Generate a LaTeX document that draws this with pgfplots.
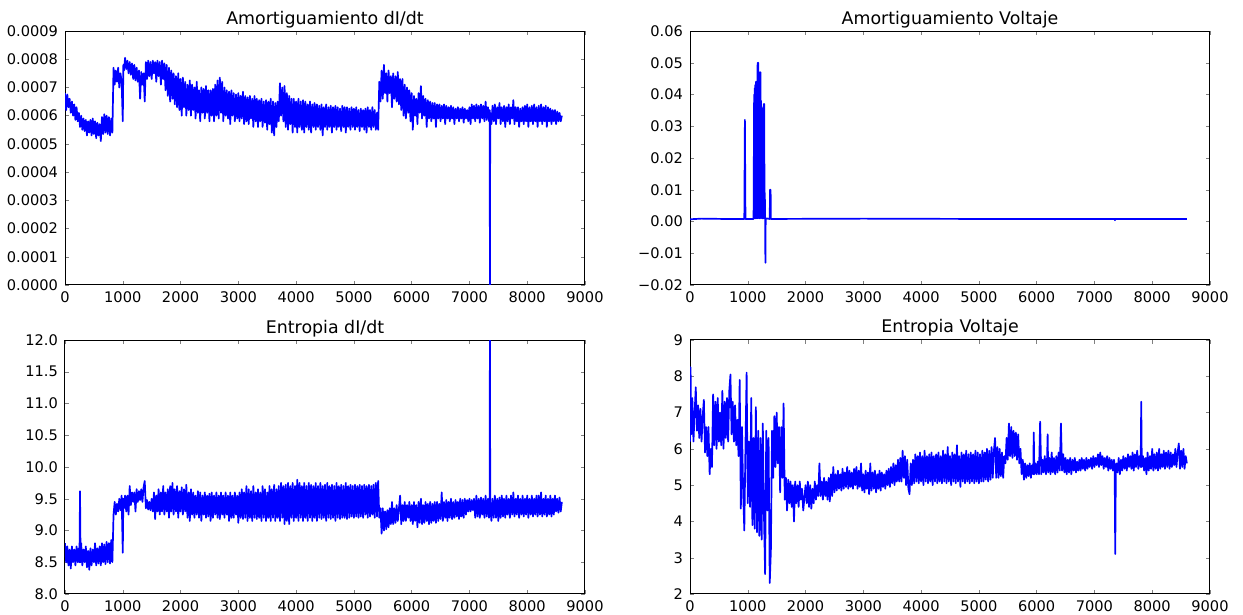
\documentclass[border=0pt]{standalone}
\usepackage{fontspec}
\setmainfont{DejaVu Sans}
\usepackage{pgfplots}
\pgfplotsset{compat=1.18}

% matplotlib "classic" look, 1px = 0.5pt
\pgfplotsset{
  mpl/.style={
    scale only axis, width=260pt, height=127pt, anchor=south west,
    xmin=0, xmax=9000, xtick={0,1000,...,9000},
    /pgf/number format/assume math mode=true,
    /pgf/number format/1000 sep={},
    scaled ticks=false,
    tick label style={font=\fontsize{7.3}{8.5}\selectfont},
    every axis title shift=0pt,
    title style={font=\fontsize{8.7}{10}\selectfont, at={(0.5,1)}, anchor=base, yshift=3.5pt},
    major tick length=2pt, tick align=inside,
    axis line style={line width=0.5pt},
  },
  trace/.style={color={rgb,255:red,0;green,0;blue,255}, line width=0.85pt, line join=round},
}

\begin{document}
\begin{tikzpicture}
\path[use as bounding box] (0,0) rectangle (621.5pt,307.5pt);

% ---------- Amortiguamiento dI/dt
\begin{axis}[mpl, at={(32.5pt,165pt)},
  title={Amortiguamiento dI/dt},
  ymin=0, ymax=0.0009,
  ytick={0,0.0001,0.0002,0.0003,0.0004,0.0005,0.0006,0.0007,0.0008,0.0009},
  yticklabels={0.0000,0.0001,0.0002,0.0003,0.0004,0.0005,0.0006,0.0007,0.0008,0.0009}]
\addplot[trace] coordinates {
(0,6.8e-4)(20,6.2e-4)(40,6.75e-4)(60,6.3e-4)(80,6.6e-4)(100,6.1e-4)(120,6.5e-4)(140,6.0e-4)(160,6.4e-4)(180,5.85e-4)
(200,6.3e-4)(220,5.8e-4)(240,6.1e-4)(260,5.6e-4)(280,6.0e-4)(300,5.5e-4)(320,5.9e-4)(340,5.45e-4)(360,5.85e-4)(380,5.3e-4)
(400,5.8e-4)(420,5.4e-4)(440,5.85e-4)(460,5.3e-4)(480,5.9e-4)(500,5.35e-4)(520,5.8e-4)(540,5.2e-4)(560,5.75e-4)(580,5.3e-4)
(600,5.7e-4)(620,5.1e-4)(640,5.95e-4)(660,5.35e-4)(680,6.05e-4)(700,5.4e-4)(720,6.0e-4)(740,5.35e-4)(760,5.95e-4)(780,5.3e-4)
(800,5.9e-4)(820,5.4e-4)(840,7.7e-4)(860,7.1e-4)(880,7.6e-4)(900,7.2e-4)(920,7.7e-4)(940,7.0e-4)(960,7.5e-4)(980,7.2e-4)
(1000,5.8e-4)(1010,7.8e-4)(1020,7.6e-4)(1040,8.05e-4)(1060,7.65e-4)(1080,7.95e-4)(1100,7.5e-4)(1120,7.9e-4)(1140,7.45e-4)(1160,7.85e-4)
(1180,7.3e-4)(1200,7.8e-4)(1220,7.25e-4)(1240,7.7e-4)(1260,7.2e-4)(1280,7.6e-4)(1300,6.6e-4)(1320,7.55e-4)(1340,7.1e-4)(1360,7.5e-4)
(1380,6.5e-4)(1400,7.9e-4)(1420,7.3e-4)(1440,7.95e-4)(1460,7.4e-4)(1480,7.9e-4)(1500,7.3e-4)(1520,7.95e-4)(1540,7.5e-4)(1560,7.9e-4)
(1580,7.2e-4)(1600,7.95e-4)(1620,7.4e-4)(1640,7.9e-4)(1660,7.1e-4)(1680,7.95e-4)(1700,7.3e-4)(1720,7.85e-4)(1740,6.9e-4)(1760,7.8e-4)
(1780,6.7e-4)(1800,7.7e-4)(1820,6.5e-4)(1840,7.6e-4)(1860,6.6e-4)(1880,7.5e-4)(1900,6.4e-4)(1920,7.4e-4)(1940,6.3e-4)(1960,7.5e-4)
(1980,6.2e-4)(2000,7.3e-4)(2020,6.0e-4)(2040,7.35e-4)(2060,6.3e-4)(2080,7.2e-4)(2100,6.0e-4)(2120,7.1e-4)(2140,6.2e-4)(2160,7.25e-4)
(2180,6.0e-4)(2200,7.1e-4)(2220,6.2e-4)(2240,7.0e-4)(2260,5.9e-4)(2280,7.2e-4)(2300,6.1e-4)(2320,6.9e-4)(2340,5.8e-4)(2360,7.0e-4)
(2380,6.1e-4)(2400,6.95e-4)(2420,5.9e-4)(2440,7.05e-4)(2460,6.1e-4)(2480,6.9e-4)(2500,5.8e-4)(2520,6.9e-4)(2540,6.0e-4)(2560,6.95e-4)
(2580,5.8e-4)(2600,7.1e-4)(2620,6.0e-4)(2640,7.25e-4)(2660,5.9e-4)(2680,7.35e-4)(2700,6.1e-4)(2720,7.2e-4)(2740,5.8e-4)(2760,7.0e-4)
(2780,6.0e-4)(2800,6.9e-4)(2820,5.9e-4)(2840,6.85e-4)(2860,5.7e-4)(2880,6.9e-4)(2900,6.0e-4)(2920,6.8e-4)(2940,5.8e-4)(2960,6.75e-4)
(2980,5.9e-4)(3000,6.8e-4)(3020,5.8e-4)(3040,6.7e-4)(3060,5.9e-4)(3080,6.85e-4)(3100,5.7e-4)(3120,6.7e-4)(3140,5.8e-4)(3160,6.65e-4)
(3180,5.7e-4)(3200,6.7e-4)(3220,5.9e-4)(3240,6.6e-4)(3260,5.6e-4)(3280,6.7e-4)(3300,5.8e-4)(3320,6.6e-4)(3340,5.6e-4)(3360,6.55e-4)
(3380,5.8e-4)(3400,6.6e-4)(3420,5.6e-4)(3440,6.5e-4)(3460,5.75e-4)(3480,6.55e-4)(3500,5.5e-4)(3520,6.5e-4)(3540,5.7e-4)(3560,6.6e-4)
(3580,5.4e-4)(3600,6.5e-4)(3620,5.3e-4)(3640,6.45e-4)(3660,5.6e-4)(3680,6.5e-4)(3700,5.8e-4)(3720,7.15e-4)(3740,6.0e-4)(3760,7.0e-4)
(3780,5.8e-4)(3800,7.05e-4)(3820,5.6e-4)(3840,6.8e-4)(3860,5.5e-4)(3880,6.7e-4)(3900,5.7e-4)(3920,6.6e-4)(3940,5.4e-4)(3960,6.6e-4)
(3980,5.6e-4)(4000,6.5e-4)(4020,5.4e-4)(4040,6.6e-4)(4060,5.6e-4)(4080,6.5e-4)(4100,5.5e-4)(4120,6.55e-4)(4140,5.4e-4)(4160,6.5e-4)
(4180,5.6e-4)(4200,6.4e-4)(4220,5.5e-4)(4240,6.5e-4)(4260,5.4e-4)(4280,6.4e-4)(4300,5.6e-4)(4320,6.45e-4)(4340,5.5e-4)(4360,6.4e-4)
(4380,5.6e-4)(4400,6.35e-4)(4420,5.5e-4)(4440,6.4e-4)(4460,5.3e-4)(4480,6.3e-4)(4500,5.6e-4)(4520,6.4e-4)(4540,5.5e-4)(4560,6.3e-4)
(4580,5.6e-4)(4600,6.35e-4)(4620,5.4e-4)(4640,6.3e-4)(4660,5.6e-4)(4680,6.35e-4)(4700,5.5e-4)(4720,6.3e-4)(4740,5.6e-4)(4760,6.25e-4)
(4780,5.45e-4)(4800,6.35e-4)(4820,5.6e-4)(4840,6.3e-4)(4860,5.4e-4)(4880,6.3e-4)(4900,5.6e-4)(4920,6.25e-4)(4940,5.5e-4)(4960,6.3e-4)
(4980,5.6e-4)(5000,6.25e-4)(5020,5.5e-4)(5040,6.3e-4)(5060,5.6e-4)(5080,6.2e-4)(5100,5.45e-4)(5120,6.25e-4)(5140,5.6e-4)(5160,6.2e-4)
(5180,5.5e-4)(5200,6.25e-4)(5220,5.4e-4)(5240,6.3e-4)(5260,5.6e-4)(5280,6.2e-4)(5300,5.5e-4)(5320,6.3e-4)(5340,5.6e-4)(5360,6.2e-4)
(5380,5.5e-4)(5400,6.1e-4)(5420,5.5e-4)(5440,7.2e-4)(5460,6.5e-4)(5480,7.6e-4)(5500,6.6e-4)(5520,7.8e-4)(5540,6.8e-4)(5560,7.5e-4)
(5580,6.5e-4)(5600,7.6e-4)(5620,6.8e-4)(5640,7.4e-4)(5660,6.3e-4)(5680,7.5e-4)(5700,6.6e-4)(5720,7.4e-4)(5740,6.5e-4)(5760,7.55e-4)
(5780,6.4e-4)(5800,7.3e-4)(5820,6.2e-4)(5840,7.3e-4)(5860,6.0e-4)(5880,7.1e-4)(5900,5.9e-4)(5920,7.0e-4)(5940,6.1e-4)(5960,6.9e-4)
(5980,5.8e-4)(6000,6.8e-4)(6020,5.5e-4)(6040,6.7e-4)(6060,6.0e-4)(6080,6.6e-4)(6100,5.7e-4)(6120,6.8e-4)(6140,6.1e-4)(6160,7.05e-4)
(6180,5.9e-4)(6200,6.7e-4)(6220,6.0e-4)(6240,6.6e-4)(6260,5.6e-4)(6280,6.55e-4)(6300,5.9e-4)(6320,6.5e-4)(6340,5.8e-4)(6360,6.45e-4)
(6380,5.9e-4)(6400,6.45e-4)(6420,5.6e-4)(6440,6.4e-4)(6460,5.9e-4)(6480,6.4e-4)(6500,5.8e-4)(6520,6.35e-4)(6540,5.9e-4)(6560,6.4e-4)
(6580,5.7e-4)(6600,6.35e-4)(6620,5.9e-4)(6640,6.3e-4)(6660,5.8e-4)(6680,6.35e-4)(6700,5.9e-4)(6720,6.3e-4)(6740,5.7e-4)(6760,6.25e-4)
(6780,5.9e-4)(6800,6.3e-4)(6820,5.8e-4)(6840,6.25e-4)(6860,5.9e-4)(6880,6.3e-4)(6900,5.75e-4)(6920,6.25e-4)(6940,5.9e-4)(6960,6.2e-4)
(6980,5.8e-4)(7000,6.3e-4)(7020,5.7e-4)(7040,6.4e-4)(7060,5.9e-4)(7080,6.35e-4)(7100,5.8e-4)(7120,6.4e-4)(7140,5.9e-4)(7160,6.35e-4)
(7180,5.75e-4)(7200,6.4e-4)(7220,5.9e-4)(7240,6.35e-4)(7260,5.8e-4)(7280,6.5e-4)(7300,5.85e-4)(7320,6.3e-4)(7340,5.8e-4)(7350,6.2e-4)
(7355,0)(7360,6.1e-4)(7380,5.7e-4)(7400,6.35e-4)(7420,5.8e-4)(7440,6.4e-4)(7460,5.7e-4)(7480,6.3e-4)(7500,5.9e-4)(7520,6.45e-4)
(7540,5.7e-4)(7560,6.3e-4)(7580,5.8e-4)(7600,6.35e-4)(7620,5.6e-4)(7640,6.3e-4)(7660,5.8e-4)(7680,6.4e-4)(7700,5.7e-4)(7720,6.3e-4)
(7740,5.9e-4)(7760,6.55e-4)(7780,5.7e-4)(7800,6.3e-4)(7820,5.8e-4)(7840,6.3e-4)(7860,5.6e-4)(7880,6.25e-4)(7900,5.8e-4)(7920,6.3e-4)
(7940,5.7e-4)(7960,6.35e-4)(7980,5.8e-4)(8000,6.4e-4)(8020,5.6e-4)(8040,6.3e-4)(8060,5.8e-4)(8080,6.35e-4)(8100,5.7e-4)(8120,6.4e-4)
(8140,5.8e-4)(8160,6.3e-4)(8180,5.6e-4)(8200,6.35e-4)(8220,5.8e-4)(8240,6.4e-4)(8260,5.7e-4)(8280,6.3e-4)(8300,5.8e-4)(8320,6.35e-4)
(8340,5.6e-4)(8360,6.3e-4)(8380,5.8e-4)(8400,6.25e-4)(8420,5.7e-4)(8440,6.2e-4)(8460,5.8e-4)(8480,6.2e-4)(8500,5.7e-4)(8520,6.15e-4)
(8540,5.8e-4)(8560,6.1e-4)(8580,5.8e-4)(8600,6.0e-4)
};
\end{axis}

% ---------- Amortiguamiento Voltaje
\begin{axis}[mpl, at={(345pt,165pt)},
  title={Amortiguamiento Voltaje},
  ymin=-0.02, ymax=0.06,
  ytick={-0.02,-0.01,0,0.01,0.02,0.03,0.04,0.05,0.06},
  yticklabels={−0.02,−0.01,0.00,0.01,0.02,0.03,0.04,0.05,0.06}]
\addplot[trace] coordinates {
(0,0.0007)(200,0.0009)(600,0.0008)(940,0.0008)(950,0.032)(960,0.0008)(1100,0.0008)
(1110,0.040)(1115,0.001)(1120,0.042)(1125,0.002)(1130,0.043)(1135,0.001)(1140,0.044)(1145,0.002)
(1150,0.044)(1155,0.001)(1160,0.043)(1165,0.003)(1170,0.050)(1175,0.001)(1180,0.050)(1185,0.034)
(1190,0.002)(1195,0.040)(1200,0.001)(1210,0.047)(1215,0.002)(1220,0.047)(1225,0.001)(1230,0.038)
(1235,0.002)(1240,0.036)(1245,0.001)(1250,0.030)(1255,0.001)(1270,0.001)(1275,0.037)(1280,0.002)
(1285,0.037)(1290,0.001)(1295,0.009)(1300,0.001)(1305,-0.013)(1310,0.001)(1380,0.0008)(1385,0.010)
(1395,0.010)(1400,0.0008)(3000,0.0009)(5000,0.0008)(7350,0.0008)(7355,0.0004)(7360,0.0008)(8600,0.0008)
};
\end{axis}

% ---------- Entropia dI/dt
\begin{axis}[mpl, at={(32.5pt,10.5pt)},
  title={Entropia dI/dt},
  ymin=8, ymax=12,
  ytick={8,8.5,...,12},
  yticklabels={8.0,8.5,9.0,9.5,10.0,10.5,11.0,11.5,12.0}]
\addplot[trace] coordinates {
(0,8.8)(20,8.5)(40,8.75)(60,8.45)(80,8.7)(100,8.4)(120,8.75)(140,8.5)(160,8.7)(180,8.45)
(200,8.75)(220,8.5)(240,8.72)(250,8.5)(260,9.62)(270,8.5)(280,8.8)(300,8.45)(320,8.7)(340,8.5)
(360,8.75)(380,8.42)(400,8.68)(420,8.38)(440,8.72)(460,8.45)(480,8.7)(500,8.5)(520,8.8)(540,8.45)
(560,8.72)(580,8.48)(600,8.75)(620,8.45)(640,8.8)(660,8.5)(680,8.78)(700,8.47)(720,8.82)(740,8.5)
(760,8.8)(780,8.48)(800,8.85)(820,8.5)(840,9.25)(860,9.45)(880,9.25)(900,9.42)(920,9.3)(940,9.5)
(960,9.32)(980,9.55)(1000,8.65)(1010,9.5)(1020,9.35)(1040,9.55)(1060,9.3)(1080,9.55)(1100,9.25)(1120,9.7)
(1140,9.4)(1160,9.6)(1180,9.45)(1200,9.6)(1220,9.3)(1240,9.65)(1260,9.45)(1280,9.62)(1300,9.48)(1320,9.65)
(1340,9.45)(1360,9.68)(1380,9.78)(1400,9.35)(1420,9.48)(1440,9.33)(1460,9.45)(1480,9.32)(1500,9.5)(1520,9.3)
(1540,9.6)(1560,9.18)(1580,9.55)(1600,9.3)(1620,9.65)(1640,9.25)(1660,9.6)(1680,9.3)(1700,9.7)(1720,9.25)
(1740,9.6)(1760,9.3)(1780,9.65)(1800,9.2)(1820,9.7)(1840,9.3)(1860,9.75)(1880,9.25)(1900,9.65)(1920,9.3)
(1940,9.7)(1960,9.2)(1980,9.62)(2000,9.3)(2020,9.68)(2040,9.25)(2060,9.65)(2080,9.3)(2100,9.72)(2120,9.2)
(2140,9.6)(2160,9.15)(2180,9.65)(2200,9.25)(2220,9.6)(2240,9.2)(2260,9.55)(2280,9.25)(2300,9.62)(2320,9.2)
(2340,9.6)(2360,9.15)(2380,9.55)(2400,9.25)(2420,9.6)(2440,9.2)(2460,9.55)(2480,9.22)(2500,9.58)(2520,9.15)
(2540,9.6)(2560,9.2)(2580,9.55)(2600,9.25)(2620,9.6)(2640,9.2)(2660,9.55)(2680,9.18)(2700,9.6)(2720,9.25)
(2740,9.55)(2760,9.2)(2780,9.6)(2800,9.25)(2820,9.55)(2840,9.15)(2860,9.6)(2880,9.2)(2900,9.55)(2920,9.2)
(2940,9.6)(2960,9.25)(2980,9.55)(3000,9.12)(3020,9.6)(3040,9.2)(3060,9.65)(3080,9.18)(3100,9.6)(3120,9.2)
(3140,9.7)(3160,9.15)(3180,9.65)(3200,9.2)(3220,9.62)(3240,9.15)(3260,9.7)(3280,9.2)(3300,9.6)(3320,9.18)
(3340,9.65)(3360,9.2)(3380,9.6)(3400,9.15)(3420,9.7)(3440,9.2)(3460,9.65)(3480,9.15)(3500,9.6)(3520,9.2)
(3540,9.7)(3560,9.15)(3580,9.65)(3600,9.2)(3620,9.72)(3640,9.15)(3660,9.65)(3680,9.2)(3700,9.7)(3720,9.15)
(3740,9.75)(3760,9.2)(3780,9.7)(3800,9.1)(3820,9.72)(3840,9.15)(3860,9.75)(3880,9.1)(3900,9.7)(3920,9.2)
(3940,9.75)(3960,9.15)(3980,9.7)(4000,9.2)(4020,9.8)(4040,9.15)(4060,9.75)(4080,9.2)(4100,9.7)(4120,9.15)
(4140,9.75)(4160,9.2)(4180,9.7)(4200,9.15)(4220,9.75)(4240,9.2)(4260,9.72)(4280,9.15)(4300,9.7)(4320,9.2)
(4340,9.75)(4360,9.15)(4380,9.7)(4400,9.2)(4420,9.75)(4440,9.18)(4460,9.7)(4480,9.2)(4500,9.72)(4520,9.15)
(4540,9.75)(4560,9.2)(4580,9.7)(4600,9.18)(4620,9.72)(4640,9.2)(4660,9.7)(4680,9.15)(4700,9.75)(4720,9.2)
(4740,9.7)(4760,9.18)(4780,9.72)(4800,9.2)(4820,9.7)(4840,9.2)(4860,9.75)(4880,9.18)(4900,9.7)(4920,9.2)
(4940,9.72)(4960,9.22)(4980,9.7)(5000,9.2)(5020,9.72)(5040,9.22)(5060,9.7)(5080,9.2)(5100,9.72)(5120,9.22)
(5140,9.7)(5160,9.2)(5180,9.72)(5200,9.25)(5220,9.7)(5240,9.2)(5260,9.72)(5280,9.22)(5300,9.7)(5320,9.25)
(5340,9.72)(5360,9.2)(5380,9.75)(5400,9.22)(5420,9.78)(5440,9.2)(5460,9.35)(5480,8.95)(5500,9.35)(5520,9.0)
(5540,9.3)(5560,9.02)(5580,9.32)(5600,9.05)(5620,9.35)(5640,9.1)(5660,9.45)(5680,9.1)(5700,9.35)(5720,9.12)
(5740,9.4)(5760,9.15)(5780,9.35)(5800,9.55)(5820,9.1)(5840,9.4)(5860,9.15)(5880,9.45)(5900,9.15)(5920,9.4)
(5940,9.2)(5960,9.45)(5980,9.15)(6000,9.4)(6020,9.1)(6040,9.45)(6060,9.15)(6080,9.4)(6100,9.05)(6120,9.45)
(6140,9.12)(6160,9.5)(6180,9.1)(6200,9.4)(6220,9.12)(6240,9.45)(6260,9.15)(6280,9.42)(6300,9.1)(6320,9.45)
(6340,9.12)(6360,9.42)(6380,9.15)(6400,9.45)(6420,9.12)(6440,9.45)(6460,9.15)(6480,9.42)(6500,9.18)(6520,9.6)
(6540,9.15)(6560,9.45)(6580,9.2)(6600,9.48)(6620,9.15)(6640,9.45)(6660,9.2)(6680,9.5)(6700,9.18)(6720,9.45)
(6740,9.2)(6760,9.48)(6780,9.22)(6800,9.45)(6820,9.18)(6840,9.5)(6860,9.22)(6880,9.48)(6900,9.2)(6920,9.5)
(6940,9.25)(6960,9.48)(6980,9.3)(7000,9.5)(7020,9.3)(7040,9.48)(7060,9.32)(7080,9.5)(7100,9.2)(7120,9.55)
(7140,9.22)(7160,9.5)(7180,9.2)(7200,9.52)(7220,9.25)(7240,9.5)(7260,9.2)(7280,9.55)(7300,9.22)(7320,9.5)
(7340,9.2)(7350,9.5)(7355,12.5)(7360,9.4)(7380,9.15)(7400,9.5)(7420,9.2)(7440,9.55)(7460,9.2)(7480,9.5)
(7500,9.15)(7520,9.52)(7540,9.2)(7560,9.55)(7580,9.22)(7600,9.5)(7620,9.2)(7640,9.55)(7660,9.25)(7680,9.5)
(7700,9.2)(7720,9.55)(7740,9.25)(7760,9.6)(7780,9.22)(7800,9.5)(7820,9.25)(7840,9.55)(7860,9.2)(7880,9.5)
(7900,9.25)(7920,9.55)(7940,9.22)(7960,9.5)(7980,9.25)(8000,9.55)(8020,9.2)(8040,9.5)(8060,9.25)(8080,9.55)
(8100,9.22)(8120,9.5)(8140,9.25)(8160,9.55)(8180,9.22)(8200,9.55)(8220,9.25)(8240,9.6)(8260,9.22)(8280,9.5)
(8300,9.25)(8320,9.55)(8340,9.22)(8360,9.5)(8380,9.25)(8400,9.55)(8420,9.22)(8440,9.5)(8460,9.25)(8480,9.55)
(8500,9.3)(8520,9.5)(8540,9.28)(8560,9.52)(8580,9.3)(8600,9.45)
};
\end{axis}

% ---------- Entropia Voltaje
\begin{axis}[mpl, at={(345pt,10.5pt)},
  title={Entropia Voltaje},
  ymin=2, ymax=9, ytick={2,3,...,9}]
\addplot[trace] coordinates {
(0,6.2)(10,8.25)(20,6.4)(40,7.4)(60,6.2)(80,7.0)(100,7.7)(120,6.5)(140,7.2)(160,6.3)
(180,7.1)(200,6.2)(220,6.9)(240,7.35)(260,5.9)(280,6.6)(300,5.8)(320,6.6)(340,5.3)(360,6.0)
(380,5.5)(400,7.5)(420,6.1)(440,7.3)(460,6.0)(480,7.4)(500,6.2)(520,7.0)(540,6.1)(560,7.6)
(580,6.0)(600,7.3)(620,6.3)(640,7.4)(660,6.2)(680,7.6)(700,8.05)(720,6.4)(740,7.3)(760,6.2)
(780,7.2)(800,6.1)(820,6.8)(840,5.8)(860,7.9)(880,4.35)(900,6.6)(920,4.8)(940,3.75)(960,6.1)
(980,8.1)(1000,4.5)(1020,6.2)(1040,4.4)(1060,7.4)(1080,3.9)(1100,6.3)(1120,3.8)(1140,7.15)(1160,3.7)
(1180,6.5)(1200,3.6)(1220,6.3)(1240,3.5)(1260,6.7)(1280,4.2)(1300,2.55)(1320,6.5)(1340,4.3)(1360,6.3)
(1380,2.3)(1400,3.2)(1420,6.5)(1440,5.2)(1460,6.9)(1480,5.5)(1500,7.0)(1520,5.6)(1540,6.6)(1560,4.8)
(1580,6.6)(1600,5.2)(1620,7.25)(1640,4.6)(1660,5.2)(1680,4.3)(1700,5.15)(1720,4.5)(1740,5.1)(1760,4.4)
(1780,5.0)(1800,4.0)(1820,5.1)(1840,4.5)(1860,5.0)(1880,4.4)(1900,5.1)(1920,4.6)(1940,4.9)(1960,4.3)
(2000,5.0)(2020,4.5)(2040,5.1)(2060,4.4)(2080,5.0)(2100,4.35)(2120,4.9)(2140,4.5)(2160,5.1)(2180,4.6)
(2200,5.0)(2220,4.7)(2240,5.6)(2260,4.7)(2280,5.1)(2300,4.6)(2320,5.2)(2340,4.7)(2360,5.1)(2380,4.6)
(2400,5.2)(2420,4.55)(2440,5.3)(2460,4.7)(2480,5.5)(2500,4.8)(2520,5.3)(2540,4.85)(2560,5.4)(2580,4.9)
(2600,5.3)(2620,4.85)(2640,5.45)(2660,4.9)(2680,5.35)(2700,4.95)(2720,5.5)(2740,4.9)(2760,5.4)(2780,4.95)
(2800,5.35)(2820,4.9)(2840,5.45)(2860,5.0)(2880,5.5)(2900,4.9)(2920,5.4)(2940,4.95)(2960,5.6)(2980,4.85)
(3000,5.3)(3020,4.8)(3040,5.4)(3060,4.9)(3080,5.35)(3100,4.75)(3120,5.6)(3140,4.85)(3160,5.35)(3180,4.9)
(3200,5.4)(3220,4.8)(3240,5.3)(3260,4.9)(3280,5.4)(3300,4.85)(3320,5.35)(3340,4.95)(3360,5.3)(3380,4.9)
(3400,5.4)(3420,5.0)(3440,5.45)(3460,4.95)(3480,5.5)(3500,5.05)(3520,5.6)(3540,5.0)(3560,5.55)(3580,5.1)
(3600,5.7)(3620,5.1)(3640,5.75)(3660,5.1)(3680,5.95)(3700,5.2)(3720,5.8)(3740,5.0)(3760,5.7)(3780,4.9)
(3800,4.75)(3820,5.6)(3840,5.0)(3860,5.7)(3880,5.05)(3900,5.85)(3920,5.1)(3940,5.8)(3960,5.05)(3980,5.9)
(4000,5.1)(4020,5.8)(4040,5.0)(4060,5.95)(4080,5.1)(4100,5.8)(4120,5.05)(4140,5.85)(4160,5.1)(4180,5.9)
(4200,5.0)(4220,5.8)(4240,5.1)(4260,5.85)(4280,5.05)(4300,5.9)(4320,5.1)(4340,5.8)(4360,5.05)(4380,5.95)
(4400,5.1)(4420,5.85)(4440,5.05)(4460,6.05)(4480,5.1)(4500,5.8)(4520,5.0)(4540,5.9)(4560,5.1)(4580,5.85)
(4600,5.05)(4620,6.1)(4640,5.1)(4660,5.8)(4680,4.95)(4700,5.9)(4720,5.1)(4740,5.85)(4760,5.05)(4780,5.95)
(4800,5.1)(4820,5.85)(4840,5.05)(4860,5.9)(4880,5.1)(4900,5.85)(4920,5.05)(4940,5.95)(4960,5.1)(4980,5.9)
(5000,5.05)(5020,5.85)(5040,5.1)(5060,5.95)(5080,5.1)(5100,5.9)(5120,5.15)(5140,6.0)(5160,5.1)(5180,5.95)
(5200,5.15)(5220,6.05)(5240,5.2)(5260,5.95)(5280,6.3)(5300,5.2)(5320,6.05)(5340,5.2)(5360,6.0)(5380,5.25)
(5400,5.9)(5420,5.2)(5440,5.8)(5460,5.6)(5480,6.3)(5500,5.7)(5520,6.7)(5540,5.8)(5560,6.6)(5580,5.75)
(5600,6.5)(5620,5.8)(5640,6.45)(5660,5.7)(5680,6.4)(5700,5.6)(5720,6.0)(5740,5.3)(5760,5.7)(5780,5.15)
(5800,5.6)(5820,5.2)(5840,5.55)(5860,5.25)(5880,5.6)(5900,5.2)(5920,5.55)(5940,5.3)(5950,6.45)(5960,5.3)
(5980,5.6)(6000,5.3)(6020,5.65)(6040,5.3)(6060,6.75)(6080,5.3)(6100,5.7)(6120,5.35)(6140,5.8)(6160,5.3)
(6180,5.7)(6190,6.4)(6200,5.35)(6220,5.75)(6240,5.3)(6260,5.9)(6280,5.35)(6300,5.75)(6320,5.3)(6340,5.8)
(6360,5.35)(6380,5.9)(6400,5.4)(6420,6.7)(6440,5.4)(6460,5.85)(6480,5.35)(6500,5.75)(6520,5.3)(6540,5.7)
(6560,5.35)(6580,5.75)(6600,5.3)(6620,5.7)(6640,5.4)(6660,5.75)(6680,5.35)(6700,5.65)(6720,5.4)(6740,5.7)
(6760,5.4)(6780,5.75)(6800,5.45)(6820,5.7)(6840,5.4)(6860,5.75)(6880,5.45)(6900,5.7)(6920,5.5)(6940,5.75)
(6960,5.45)(6980,5.8)(7000,5.5)(7020,5.75)(7040,5.55)(7060,5.85)(7080,5.5)(7100,5.9)(7120,5.55)(7140,5.8)
(7160,5.45)(7180,5.75)(7200,5.5)(7220,5.8)(7240,5.4)(7260,5.75)(7280,5.45)(7300,5.7)(7320,5.4)(7340,5.7)
(7350,5.5)(7360,3.1)(7370,5.3)(7380,5.6)(7400,5.35)(7420,5.75)(7440,5.3)(7460,5.7)(7480,5.4)(7500,5.8)
(7520,5.45)(7540,5.75)(7560,5.4)(7580,5.85)(7600,5.5)(7620,5.8)(7640,5.45)(7660,5.9)(7680,5.4)(7700,5.85)
(7720,5.5)(7740,5.95)(7760,5.45)(7780,5.8)(7800,5.5)(7810,7.3)(7820,5.5)(7840,5.8)(7860,5.4)(7880,5.75)
(7900,5.3)(7920,5.9)(7940,5.4)(7960,5.8)(7980,5.45)(8000,6.0)(8020,5.4)(8040,5.85)(8060,5.45)(8080,5.9)
(8100,5.4)(8120,6.0)(8140,5.45)(8160,5.85)(8180,5.5)(8200,5.95)(8220,5.45)(8240,5.9)(8260,5.5)(8280,5.95)
(8300,5.45)(8320,5.9)(8340,5.5)(8360,5.85)(8380,5.55)(8400,6.0)(8420,5.5)(8440,5.9)(8460,6.15)(8480,5.45)
(8500,5.95)(8520,5.5)(8540,6.0)(8560,5.45)(8580,5.8)(8600,5.6)
};
\end{axis}
\end{tikzpicture}
\end{document}
